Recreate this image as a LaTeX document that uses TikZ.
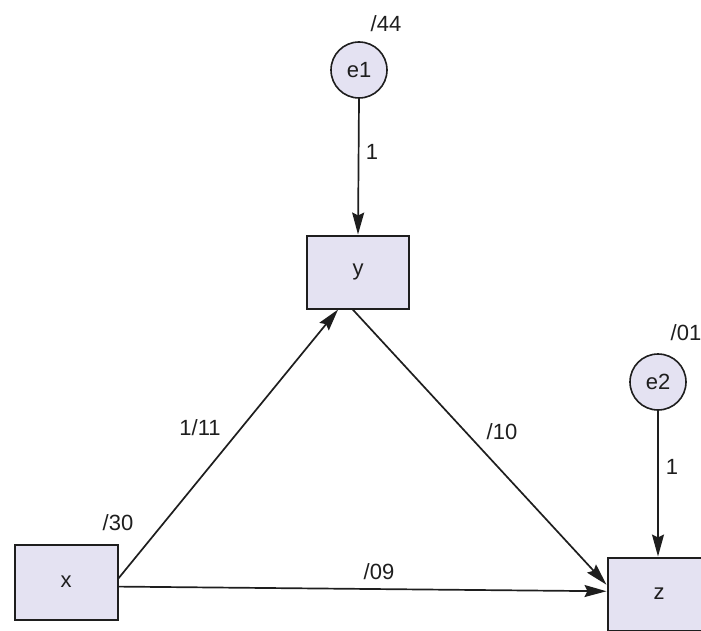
\documentclass[tikz,border=0pt]{standalone}
\usepackage{fontspec}
\setmainfont{Liberation Sans}
\usetikzlibrary{arrows.meta}
\definecolor{nodefill}{RGB}{228,226,242}
\definecolor{ink}{RGB}{30,30,30}
\begin{document}
\begin{tikzpicture}[x=1pt,y=-1pt,
  every node/.style={font=\fontsize{22}{26}\selectfont, text=ink},
  obsbox/.style={draw=ink, line width=2pt, fill=nodefill, rectangle, inner sep=0pt},
  errcirc/.style={draw=ink, line width=1.6pt, fill=nodefill, circle, minimum size=56pt, inner sep=0pt},
  path/.style={draw=ink, line width=1.7pt, -{Stealth[length=22pt,width=12pt,inset=3pt]}},
  lbl/.style={inner sep=0pt}]
\useasboundingbox (0,0) rectangle (701,631);
\begin{scope}
\clip (0,0) rectangle (701,631);
\node[errcirc] (e1) at (359,70) {e1};
\node[obsbox, minimum width=102pt, minimum height=73pt] (y) at (358,272) {y};
\node[errcirc] (e2) at (658,382) {e2};
\node[obsbox, minimum width=103pt, minimum height=75pt] (x) at (66,582) {x};
\node[obsbox, minimum width=103pt, minimum height=73pt] (z) at (659,594) {z};

\draw[path] (e1.south) -- (y.north);
\draw[path] (e2.south) -- (z.north -| e2.south);
\draw[path] (x.4) -- (y.242);
\draw[path] (y.262) -- (z.170);
\draw[path] (x.-5) -- (z.177);

\node[lbl] (l44) at (386,24) {/44};
\node[lbl] (l1a) at (372,152) {1};
\node[lbl] (l01) at (686,333) {/01};
\node[lbl] (l1b) at (672,467) {1};
\node[lbl] (l111) at (200,428) {1/11};
\node[lbl] (l30) at (118,523) {/30};
\node[lbl] (l10) at (502,432) {/10};
\node[lbl] (l09) at (379,572) {/09};
\end{scope}
\end{tikzpicture}
\end{document}
